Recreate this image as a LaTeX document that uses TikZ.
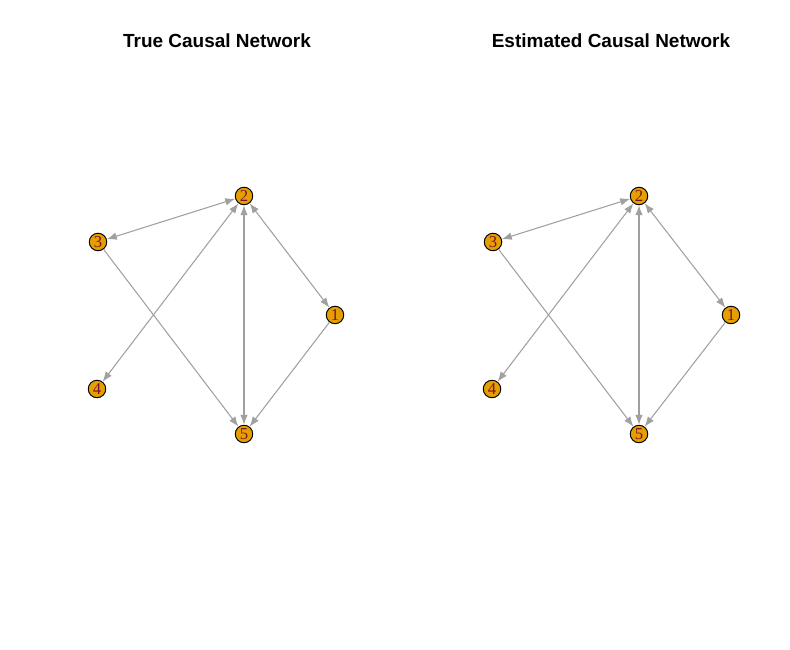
\documentclass[tikz,border=0pt]{standalone}
\usepackage{fontspec}
\setmainfont{Liberation Serif}
\newfontfamily\titlefont{Liberation Sans}
\usetikzlibrary{arrows.meta}
\definecolor{vfill}{HTML}{E69F00}
\definecolor{vlabel}{HTML}{7A1530}
\definecolor{edgegray}{HTML}{A0A0A0}
\tikzset{
  gvert/.style={circle,draw=black,fill=vfill,line width=0.55pt,minimum size=0.35cm,inner sep=0pt,
    text=vlabel,font=\fontsize{9.5}{9.5}\selectfont},
  gedge/.style={-{Latex[length=2mm,width=1.5mm]},draw=edgegray,line width=0.6pt},
  gbiedge/.style={{Latex[length=2mm,width=1.5mm]}-{Latex[length=2mm,width=1.5mm]},draw=edgegray,line width=0.6pt},
  paneltitle/.style={font=\titlefont\bfseries\fontsize{10.8}{12}\selectfont}
}

\begin{document}
\begin{tikzpicture}
  \useasboundingbox (0,0) rectangle (15.8,13);

  % true network
  \node[paneltitle] (ttitle) at (4.34,12.18) {True Causal Network};
  \node[gvert] (t1) at (6.70,6.70) {1};
  \node[gvert] (t2) at (4.88,9.08) {2};
  \node[gvert] (t3) at (1.96,8.16) {3};
  \node[gvert] (t4) at (1.94,5.22) {4};
  \node[gvert] (t5) at (4.88,4.32) {5};
  \draw[gbiedge] (t2)--(t3);
  \draw[gbiedge] (t2)--(t4);
  \draw[gbiedge] (t2)--(t5);
  \draw[gbiedge] (t2)--(t1);
  \draw[gedge] (t3)--(t5);
  \draw[gedge] (t1)--(t5);

  % estimated network
  \node[paneltitle] (etitle) at (12.22,12.18) {Estimated Causal Network};
  \node[gvert] (e1) at (14.62,6.70) {1};
  \node[gvert] (e2) at (12.78,9.08) {2};
  \node[gvert] (e3) at (9.86,8.16) {3};
  \node[gvert] (e4) at (9.84,5.22) {4};
  \node[gvert] (e5) at (12.78,4.32) {5};
  \draw[gbiedge] (e2)--(e3);
  \draw[gbiedge] (e2)--(e4);
  \draw[gbiedge] (e2)--(e5);
  \draw[gbiedge] (e2)--(e1);
  \draw[gedge] (e3)--(e5);
  \draw[gedge] (e1)--(e5);
\end{tikzpicture}
\end{document}
